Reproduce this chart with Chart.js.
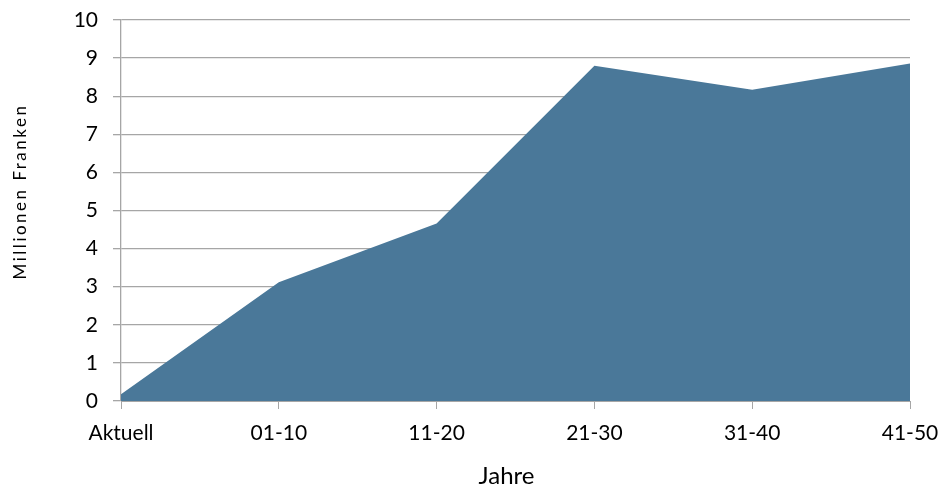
<!DOCTYPE html>
<html>
<head>
<meta charset="utf-8">
<script src="https://cdn.jsdelivr.net/npm/chart.js@4/dist/chart.umd.min.js"></script>
<style>
  html, body { margin: 0; padding: 0; background: #fff; }
  #wrap { width: 943px; height: 491px; }
</style>
</head>
<body>
<div id="wrap"><canvas id="chart" width="943" height="491"></canvas></div>
<script>
// data
const categories = ['Aktuell', '01-10', '11-20', '21-30', '31-40', '41-50'];
const values = [0.18, 3.12, 4.66, 8.8, 8.17, 8.86];
const yTicks = [0, 1, 2, 3, 4, 5, 6, 7, 8, 9, 10];

const fillColor = '#4a7899';
const gridColor = '#a6a6a6';
const fontFamily = 'Lato, "Liberation Sans", sans-serif';

const ctx = document.getElementById('chart');

// wrap a scale's title drawing: shift it and set letter spacing
function tweakTitle(scale, dx, dy, spacing) {
    if (scale._tweaked) return;
    const drawTitle = scale.drawTitle;
    scale.drawTitle = function () {
        this.ctx.save();
        this.ctx.translate(dx, dy);
        this.ctx.letterSpacing = spacing;
        drawTitle.apply(this, arguments);
        this.ctx.restore();
    };
    scale._tweaked = true;
}

new Chart(ctx, {
    type: 'line',
    data: {
        labels: categories,
        datasets: [{
            label: 'Millionen Franken',
            data: values,
            backgroundColor: fillColor,
            borderColor: fillColor,
            borderWidth: 0,
            fill: 'origin',
            pointRadius: 0,
            tension: 0
        }]
    },
    options: {
        responsive: false,
        animation: false,
        layout: { padding: { top: 20, right: 33, left: 0, bottom: 0 } },
        plugins: {
            legend: { display: false },
            tooltip: { enabled: false }
        },
        scales: {
            x: {
                offset: false,
                grid: {
                    offset: false,
                    drawOnChartArea: false,
                    drawTicks: true,
                    tickLength: 8,
                    tickColor: gridColor
                },
                border: { color: gridColor, width: 1 },
                ticks: {
                    color: '#000',
                    font: { family: fontFamily, size: 21 },
                    padding: 12,
                    maxRotation: 0,
                    autoSkip: false
                },
                title: {
                    display: true,
                    text: 'Jahre',
                    color: '#000',
                    font: { family: fontFamily, size: 24 },
                    padding: { top: 0, bottom: 0 }
                },
                afterFit: scale => {
                    scale.height = 90;
                    scale.paddingLeft = 0;
                    scale.paddingRight = 0;
                    tweakTitle(scale, -9, 0, '0px');
                }
            },
            y: {
                min: 0,
                max: 10,
                afterBuildTicks: scale => {
                    scale.ticks = yTicks.map(v => ({ value: v }));
                },
                grid: {
                    color: gridColor,
                    tickColor: gridColor,
                    tickLength: 8,
                    lineWidth: 1.3
                },
                border: { color: gridColor, width: 1.3 },
                ticks: {
                    color: '#000',
                    font: { family: fontFamily, size: 21 },
                    padding: 15
                },
                title: {
                    display: true,
                    text: 'Millionen Franken',
                    color: '#000',
                    font: { family: fontFamily, size: 17 },
                    padding: { top: 10, bottom: 0 }
                },
                afterFit: scale => {
                    scale.width = 121;
                    scale.paddingTop = 0;
                    scale.paddingBottom = 0;
                    tweakTitle(scale, 0, -19, '2.5px');
                }
            }
        }
    }
});
</script>
</body>
</html>
